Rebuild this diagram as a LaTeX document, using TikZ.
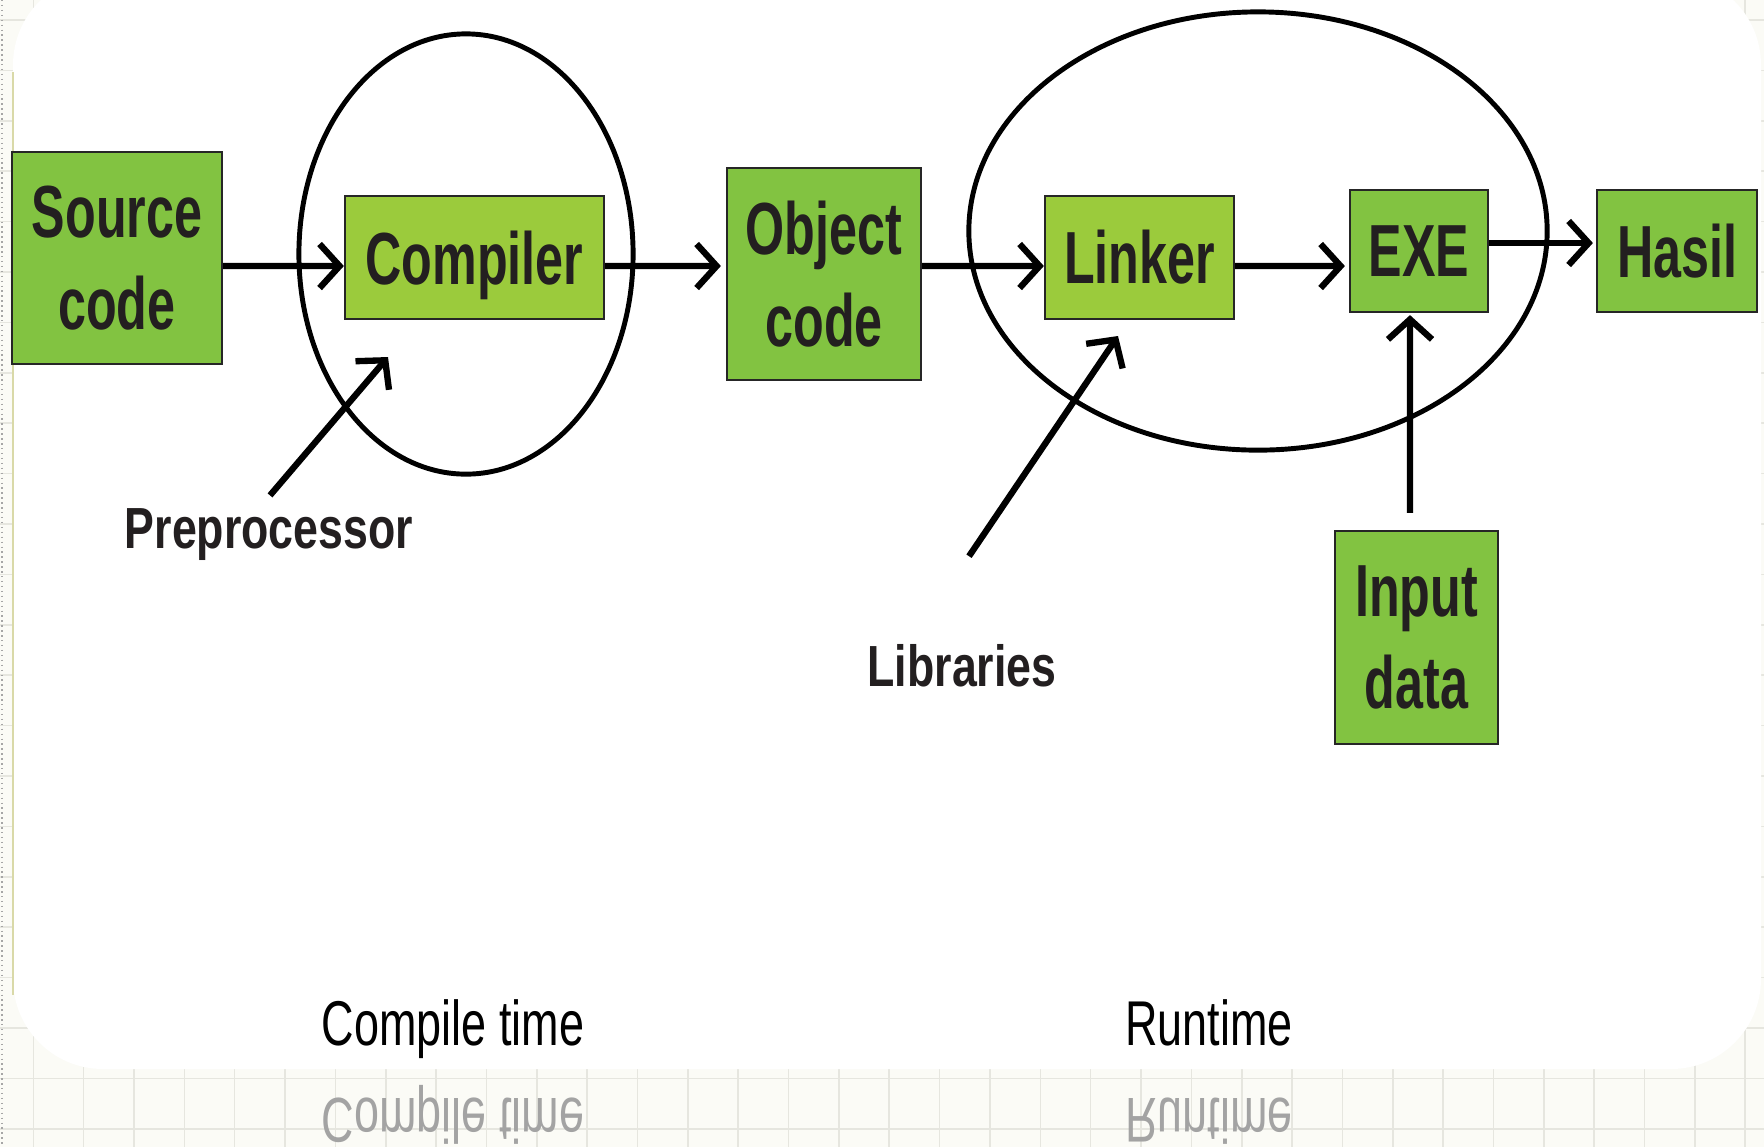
\documentclass[tikz,border=0pt]{standalone}
\usepackage{fontspec}
\usepackage{graphicx}
\usetikzlibrary{arrows.meta,shapes.geometric}
\setmainfont{Liberation Sans}
\newfontfamily\boxfont[FakeStretch=0.68]{Liberation Sans}
\newfontfamily\notefont[FakeStretch=0.77]{Liberation Sans}
\newfontfamily\phasefont[FakeStretch=0.71]{Liberation Sans}
\definecolor{stepgreen}{HTML}{82C341}
\definecolor{toolgreen}{HTML}{9BCB3C}
\definecolor{ink}{HTML}{231F20}
\definecolor{paper}{HTML}{FBFBF6}
\definecolor{gridline}{HTML}{E6E6DF}
\definecolor{panelrim}{HTML}{D9D9A8}

\begin{document}
\begin{tikzpicture}[x=0.01cm, y=-0.01cm,
  stagebox/.style={draw=black!85, line width=0.6pt, fill=stepgreen, inner sep=0pt,
    align=center, text=ink, font=\boxfont\bfseries\fontsize{21}{26}\selectfont},
  toolbox/.style={stagebox, fill=toolgreen},
  phase/.style={draw=black, line width=1.4pt, ellipse, inner sep=0pt},
  flow/.style={draw=black, line width=1.8pt, -{Straight Barb[length=2mm,width=4.4mm]}},
  note/.style={inner sep=0pt, anchor=base, text=ink,
    font=\notefont\bfseries\fontsize{16.5}{20}\selectfont},
  phaselabel/.style={inner sep=0pt, anchor=base, text=black,
    font=\phasefont\fontsize{18}{22}\selectfont},
  mirror/.style={phaselabel, text=black!36}
]
% page, grid paper and the white card
\useasboundingbox (0,0) rectangle (1764,1147);
\fill[paper] (0,0) rectangle (1764,1147);
\foreach \i in {0,...,34}
  \draw[gridline, line width=0.45pt] ({33.3+50.35*\i},0) -- ++(0,1147);
\foreach \j in {0,...,22}
  \draw[gridline, line width=0.45pt] (0,{20+50.4*\j}) -- ++(1764,0);
\draw[black!35, densely dotted, line width=0.4pt] (2,0) -- (2,1147);
\fill[white, rounded corners=0.9cm] (13,-25) rectangle (1761,1069);
\draw[panelrim, line width=0.5pt] (13,72) -- (13,995);

% compile-time and runtime groups
\node[phase, minimum width=3.34cm, minimum height=4.40cm] (ctime) at (466,254) {};
\node[phase, minimum width=5.78cm, minimum height=4.38cm] (rtime) at (1258,231) {};

% stages
\node[stagebox, minimum width=2.10cm, minimum height=2.12cm] (src) at (117,258) {Source\\code};
\node[toolbox, text depth=0pt, minimum width=2.59cm, minimum height=1.23cm] (comp) at (474.5,257.5) {Compiler};
\node[stagebox, minimum width=1.94cm, minimum height=2.12cm] (obj) at (824,274) {Object\\code};
\node[toolbox, minimum width=1.89cm, minimum height=1.23cm] (link) at (1139.5,257.5) {Linker};
\node[stagebox, minimum width=1.38cm, minimum height=1.22cm] (exe) at (1419,251) {EXE};
\node[stagebox, minimum width=1.60cm, minimum height=1.22cm] (hasil) at (1677,251) {Hasil};
\node[stagebox, minimum width=1.63cm, minimum height=2.13cm] (input) at (1416.5,637.5) {Input\\data};

% side inputs
\node[note] (pre) at (269,548) {Preprocessor};
\node[note] (lib) at (962,686) {Libraries};

% flow
\draw[flow] ([yshift=-0.08cm]src.east) -- ([yshift=-0.085cm]comp.west);
\draw[flow] ([yshift=-0.085cm]comp.east) -- ([xshift=-0.05cm,yshift=0.08cm]obj.west);
\draw[flow] ([yshift=0.08cm]obj.east) -- ([yshift=-0.085cm]link.west);
\draw[flow] ([yshift=-0.085cm]link.east) -- ([xshift=-0.04cm,yshift=-0.15cm]exe.west);
\draw[flow] ([yshift=0.08cm]exe.east) -- ([xshift=-0.03cm,yshift=0.08cm]hasil.west);
\draw[flow] ([xshift=-0.065cm,yshift=0.17cm]input.north) -- ([xshift=-0.09cm,yshift=-0.02cm]exe.south);
\coordinate (pretip) at (388,357);
\coordinate (libtip) at (1118,336);
\draw[flow] ([xshift=0.01cm,yshift=0.12cm]pre.north) -- (pretip);
\draw[flow] ([xshift=0.07cm,yshift=0.87cm]lib.north) -- (libtip);

% phase captions and their reflections
\node[phaselabel] (ctl) at (453,1045) {Compile time};
\node[phaselabel] (rtl) at (1209,1045) {Runtime};
\node[mirror] (ctlm) at (453,1098) {\scalebox{1}[-1]{Compile time}};
\node[mirror] (rtlm) at (1209,1098) {\scalebox{1}[-1]{Runtime}};
\end{tikzpicture}
\end{document}
